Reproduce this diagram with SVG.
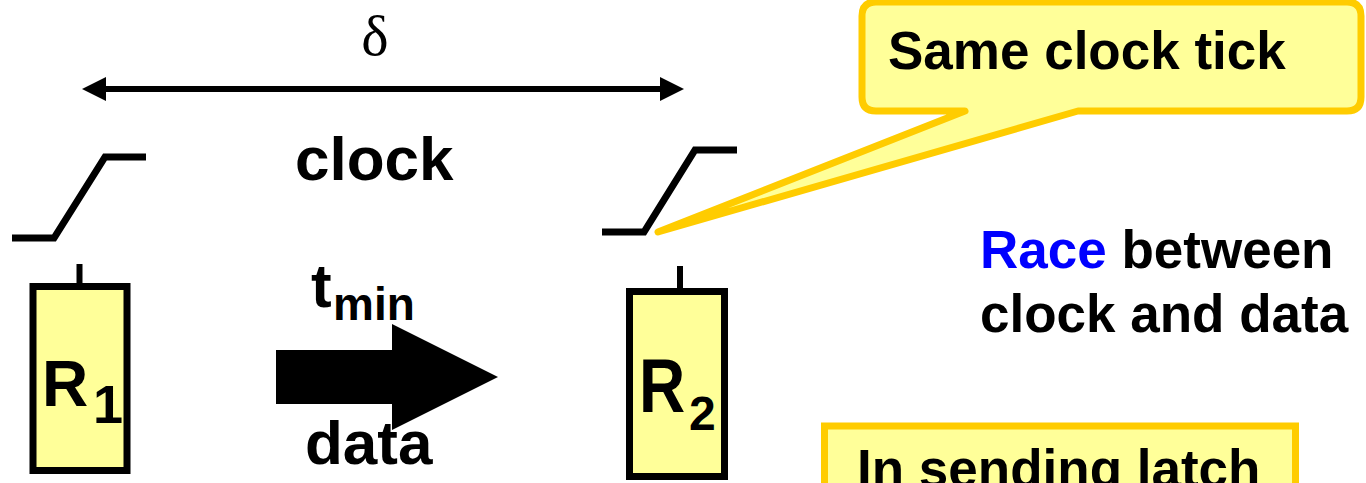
<svg xmlns="http://www.w3.org/2000/svg" width="1366" height="483" viewBox="0 0 1366 483">
  <style>
    .lbl { font-family: "Liberation Sans", Arial, sans-serif; font-weight: bold; fill: #000; }
    .wave { fill: none; stroke: #000; stroke-width: 7; stroke-linejoin: miter; }
    .reg { fill: #FFFF99; stroke: #000; stroke-width: 7; }
    .stub { stroke: #000; stroke-width: 6; }
    .note { fill: #FFFF99; stroke: #FFCC00; stroke-width: 7; stroke-linejoin: round; }
  </style>
  <defs>
    <marker id="head" viewBox="0 0 24 24" refX="2" refY="12" markerWidth="24" markerHeight="24" markerUnits="userSpaceOnUse" orient="auto-start-reverse">
      <path d="M0,0 L24,12 L0,24 Z" fill="#000"/>
    </marker>
  </defs>

  <rect width="1366" height="483" fill="#fff"/>

  <!-- skew interval between the two clock edges -->
  <g id="skew">
    <line x1="104" y1="89" x2="662" y2="89" stroke="#000" stroke-width="6" marker-start="url(#head)" marker-end="url(#head)"/>
    <text x="375" y="55" text-anchor="middle" font-family="'Liberation Serif', 'Times New Roman', serif" font-size="58">δ</text>
    <text class="lbl" x="295" y="180" font-size="62">clock</text>
  </g>

  <!-- clock edges -->
  <g id="clk1">
    <polyline class="wave" points="12,238 54,238 105,157 146,157"/>
  </g>
  <g id="clk2">
    <polyline class="wave" points="602,232 644,232 695,150 737,150"/>
  </g>

  <!-- register R1 -->
  <g id="r1">
    <line class="stub" x1="79.5" y1="264" x2="79.5" y2="284"/>
    <rect class="reg" x="33" y="286.5" width="94" height="184"/>
    <text class="lbl" x="42" y="406" font-size="64">R</text>
    <text class="lbl" x="93" y="423" font-size="54">1</text>
  </g>

  <!-- register R2 -->
  <g id="r2">
    <line class="stub" x1="680" y1="266" x2="680" y2="290"/>
    <rect class="reg" x="629.5" y="291.5" width="95" height="185"/>
    <text class="lbl" transform="translate(639,412) scale(1,1.18)" font-size="64">R</text>
    <text class="lbl" x="689" y="430" font-size="48">2</text>
  </g>

  <!-- data path -->
  <g id="connectors">
    <polygon points="276,350 392,350 392,324 498,377 392,430 392,404 276,404" fill="#000"/>
  </g>
  <g id="data-labels">
    <text class="lbl" x="311" y="307" font-size="62">t</text>
    <text class="lbl" x="333" y="320" font-size="46">min</text>
    <text class="lbl" x="305" y="464" font-size="62">data</text>
  </g>

  <!-- callout pointing at the R2 clock edge -->
  <g id="callout">
    <path class="note" d="M876,2 H1347 Q1361,2 1361,16 V97 Q1361,111 1347,111 H1078 L658,232 L965,111 H876 Q862,111 862,97 V16 Q862,2 876,2 Z"/>
    <text class="lbl" x="888" y="69" font-size="53">Same clock tick</text>
  </g>

  <!-- explanation -->
  <g id="race">
    <text class="lbl" x="980" y="268" font-size="53"><tspan fill="#0000FF">Race</tspan> between</text>
    <text class="lbl" x="980" y="332" font-size="53">clock and data</text>
  </g>

  <!-- note box -->
  <g id="sending">
    <rect x="824.5" y="426" width="471" height="100" fill="#FFFF99" stroke="#FFCC00" stroke-width="7"/>
    <text class="lbl" x="857" y="487" font-size="53">In sending latch</text>
  </g>
</svg>
